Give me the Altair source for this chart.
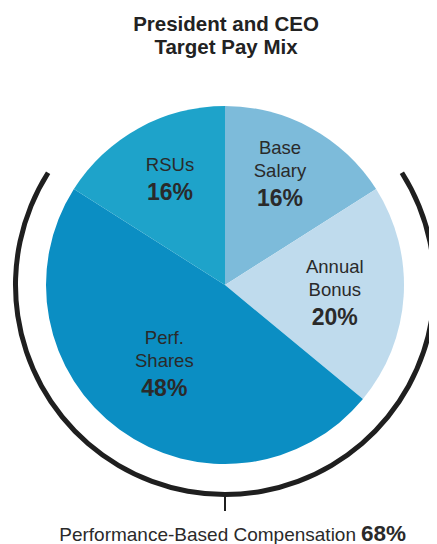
import altair as alt
import pandas as pd

# ---- data ----
categories = ["Base Salary", "Annual Bonus", "Perf. Shares", "RSUs"]
shares = [16, 20, 48, 16]
colors = ["#7dbbda", "#bfdbed", "#0b8ec3", "#1ea3ca"]
performance_based = ["Annual Bonus", "Perf. Shares"]
title_lines = ["President and CEO", "Target Pay Mix"]
footer_label = "Performance-Based Compensation"

df = pd.DataFrame({
    "category": categories,
    "share": shares,
    "idx": list(range(len(categories))),
    "pct": [f"{v}%" for v in shares],
})

total = sum(shares)
perf_idx = [categories.index(c) for c in performance_based]
perf_total = sum(shares[i] for i in perf_idx)
arc_start = sum(shares[:min(perf_idx)])
arc_end = arc_start + perf_total
arc_df = pd.DataFrame({"start": [arc_start], "end": [arc_end]})

# ---- styling / layout ----
FONT = "Liberation Sans"
TEXT = "#2a2a2a"
CX, CY = 217, 277
PIE_R = 179
BR_IN, BR_OUT = 207, 212
theta_scale = alt.Scale(domain=[0, total])
NAME_LH = 22.5

pie = alt.Chart(df).mark_arc(x=CX, y=CY, radius=PIE_R).encode(
    theta=alt.Theta("share:Q", stack=True, scale=theta_scale),
    color=alt.Color("category:N", scale=alt.Scale(domain=categories, range=colors), legend=None),
    order=alt.Order("idx:Q"),
)

bracket = alt.Chart(arc_df).mark_arc(
    x=CX, y=CY, radius=BR_OUT, radius2=BR_IN, color="#1f1f1f"
).encode(
    theta=alt.Theta("start:Q", scale=theta_scale),
    theta2="end:Q",
)

tick = alt.Chart(arc_df).mark_rule(color="#1f1f1f", strokeWidth=2).encode(
    x=alt.value(CX), y=alt.value(CY + BR_OUT), y2=alt.value(CY + BR_OUT + 14)
)

label_src = alt.Chart(df).transform_window(
    cum="sum(share)", sort=[alt.SortField("idx")], frame=[None, 0]
).transform_calculate(mid="datum.cum - datum.share / 2")

LABEL_R = 110
offsets = {
    "Base Salary": (2, 9),
    "Annual Bonus": (0, 25),
    "Perf. Shares": (4, 14),
    "RSUs": (-2, 3),
}

label_layers = []
for c in categories:
    dx, dy = offsets[c]
    n_lines = len(c.split(" "))
    f = label_src.transform_filter(alt.datum.category == c)
    name = f.mark_text(
        x=CX, y=CY, radius=LABEL_R, dx=dx, dy=dy - 17 - (n_lines - 1) * NAME_LH,
        baseline="bottom", align="center",
        lineBreak=" ", fontSize=18.5, lineHeight=NAME_LH, font=FONT, color=TEXT,
    ).encode(theta=alt.Theta("mid:Q", scale=theta_scale), text="category:N")
    pct = f.mark_text(
        x=CX, y=CY, radius=LABEL_R, dx=dx, dy=dy + 1, baseline="middle", align="center",
        fontSize=23, fontWeight="bold", font=FONT, color=TEXT,
    ).encode(theta=alt.Theta("mid:Q", scale=theta_scale), text="pct:N")
    label_layers += [name, pct]

title = alt.Chart(pd.DataFrame({"t": ["\n".join(title_lines)]})).mark_text(
    x=218, y=7, baseline="top", align="center", lineBreak="\n", fontSize=20.5,
    lineHeight=22.5, fontWeight="bold", font=FONT, color="#222222",
).encode(text="t:N")

footer_df = pd.DataFrame({"label": [footer_label], "value": [f"{perf_total}%"]})
footer_a = alt.Chart(footer_df).mark_text(
    x=348, y=533, align="right", baseline="alphabetic", fontSize=19, font=FONT, color=TEXT
).encode(text="label:N")
footer_b = alt.Chart(footer_df).mark_text(
    x=353, y=533, align="left", baseline="alphabetic", fontSize=22.5, fontWeight="bold",
    font=FONT, color=TEXT,
).encode(text="value:N")

chart = alt.layer(pie, bracket, tick, *label_layers, title, footer_a, footer_b).properties(
    width=421, height=536, padding=0, autosize=alt.AutoSizeParams(type="none"),
).configure_view(stroke=None)

chart.save("out.html", embed_options={"renderer": "svg", "actions": False})
